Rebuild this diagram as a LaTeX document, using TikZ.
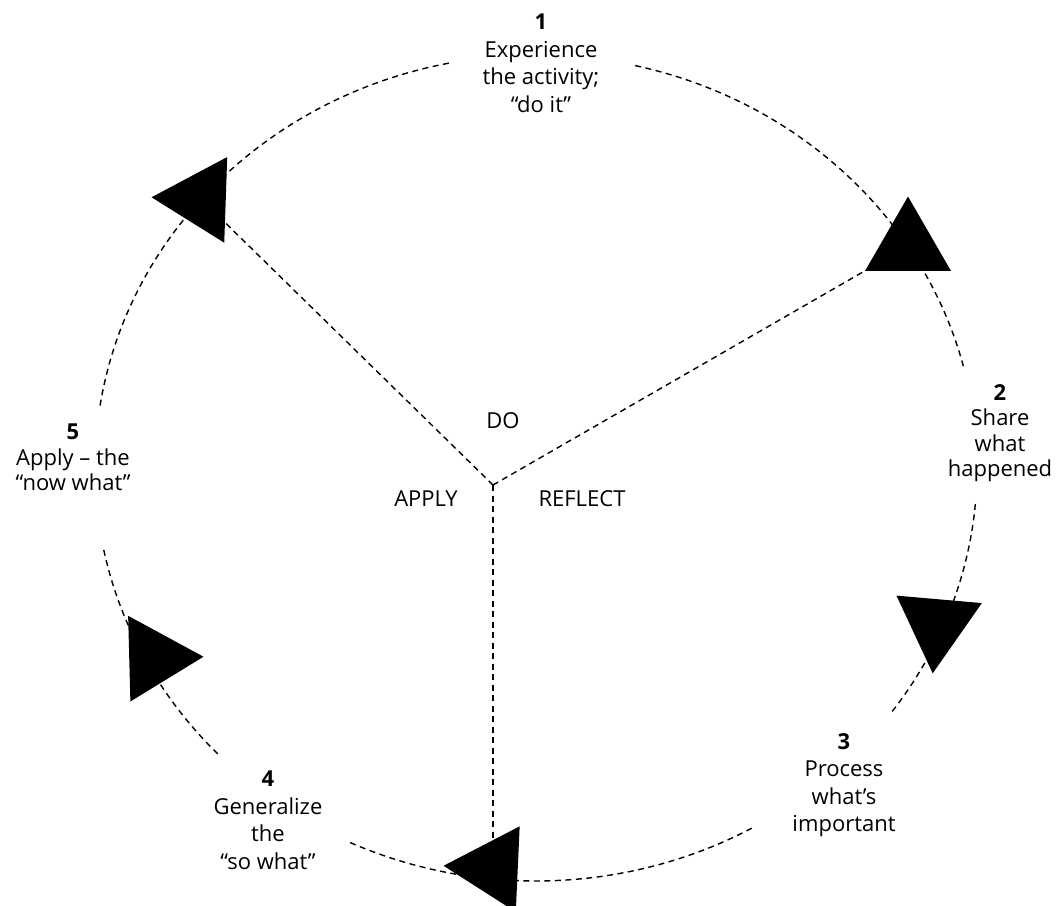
\documentclass[tikz,border=0pt]{standalone}
\usepackage{fontspec}
\setmainfont{Open Sans}
\usetikzlibrary{shapes.geometric}

\begin{document}
\begin{tikzpicture}[
    x=1pt, y=-1pt,
    rim/.style={line width=1.4pt, dash pattern=on 6pt off 4.5pt},
    spoke/.style={line width=1.4pt, dash pattern=on 6pt off 4.5pt},
    tri/.style={regular polygon, regular polygon sides=3, fill=black, draw=none, inner sep=0pt, outer sep=0pt, minimum size=99pt},
    stage/.style={align=center, anchor=north, inner sep=0pt, font=\fontsize{22}{27.5}\selectfont},
    stagetight/.style={stage, font=\fontsize{22}{25.5}\selectfont},
    phase/.style={inner sep=0pt, font=\fontsize{22}{27.5}\selectfont}
]

% Frame
\useasboundingbox (0,0) rectangle (1059,905);
\clip (0,0) rectangle (1059,905);

% Centres
\coordinate (hub) at (493,485);
\coordinate (mid) at (536,468);

% Rim
\draw[rim] (mid) ++(258.6:441 and 413) arc[start angle=258.6, end angle=188.7, x radius=441, y radius=413];
\draw[rim] (mid) ++(283:441 and 413) arc[start angle=283, end angle=345.8, x radius=441, y radius=413];
\draw[rim] (mid) ++(5:441 and 413) arc[start angle=5, end angle=36.4, x radius=441, y radius=413];
\draw[rim] (mid) ++(60.7:441 and 413) arc[start angle=60.7, end angle=115.3, x radius=441, y radius=413];
\draw[rim] (mid) ++(136.2:441 and 413) arc[start angle=136.2, end angle=168.9, x radius=441, y radius=413];

% Arrow heads
\node[tri, shape border rotate=88] (tri1) at (201,199) {};
\node[tri, shape border rotate=0] (tri2) at (908,246) {};
\node[tri, shape border rotate=175] (tri3) at (937,624) {};
\node[tri, shape border rotate=-88.5] (tri4) at (154,658) {};
\node[tri, shape border rotate=87.4] (tri5) at (493,868) {};

% Spokes
\draw[spoke] (hub) -- (tri1);
\draw[spoke] (hub) -- (tri2);
\draw[spoke] (hub) -- (tri5);

% Stages
\node[stage] (s1) at (541,14) {\textbf{1}\\Experience\\the activity;\\“do it”};
\node[stagetight] (s2) at (1000,384) {\textbf{2}\\Share\\what\\happened};
\node[stage] (s3) at (844,733) {\textbf{3}\\Process\\what’s\\important};
\node[stage] (s4) at (268,771) {\textbf{4}\\Generalize\\the\\“so what”};
\node[stagetight] (s5) at (73,424) {\textbf{5}\\Apply – the\\“now what”};

% Phases
\node[phase] (do) at (503,421) {DO};
\node[phase] (apply) at (426,499) {APPLY};
\node[phase] (reflect) at (582,499) {REFLECT};

\end{tikzpicture}
\end{document}
